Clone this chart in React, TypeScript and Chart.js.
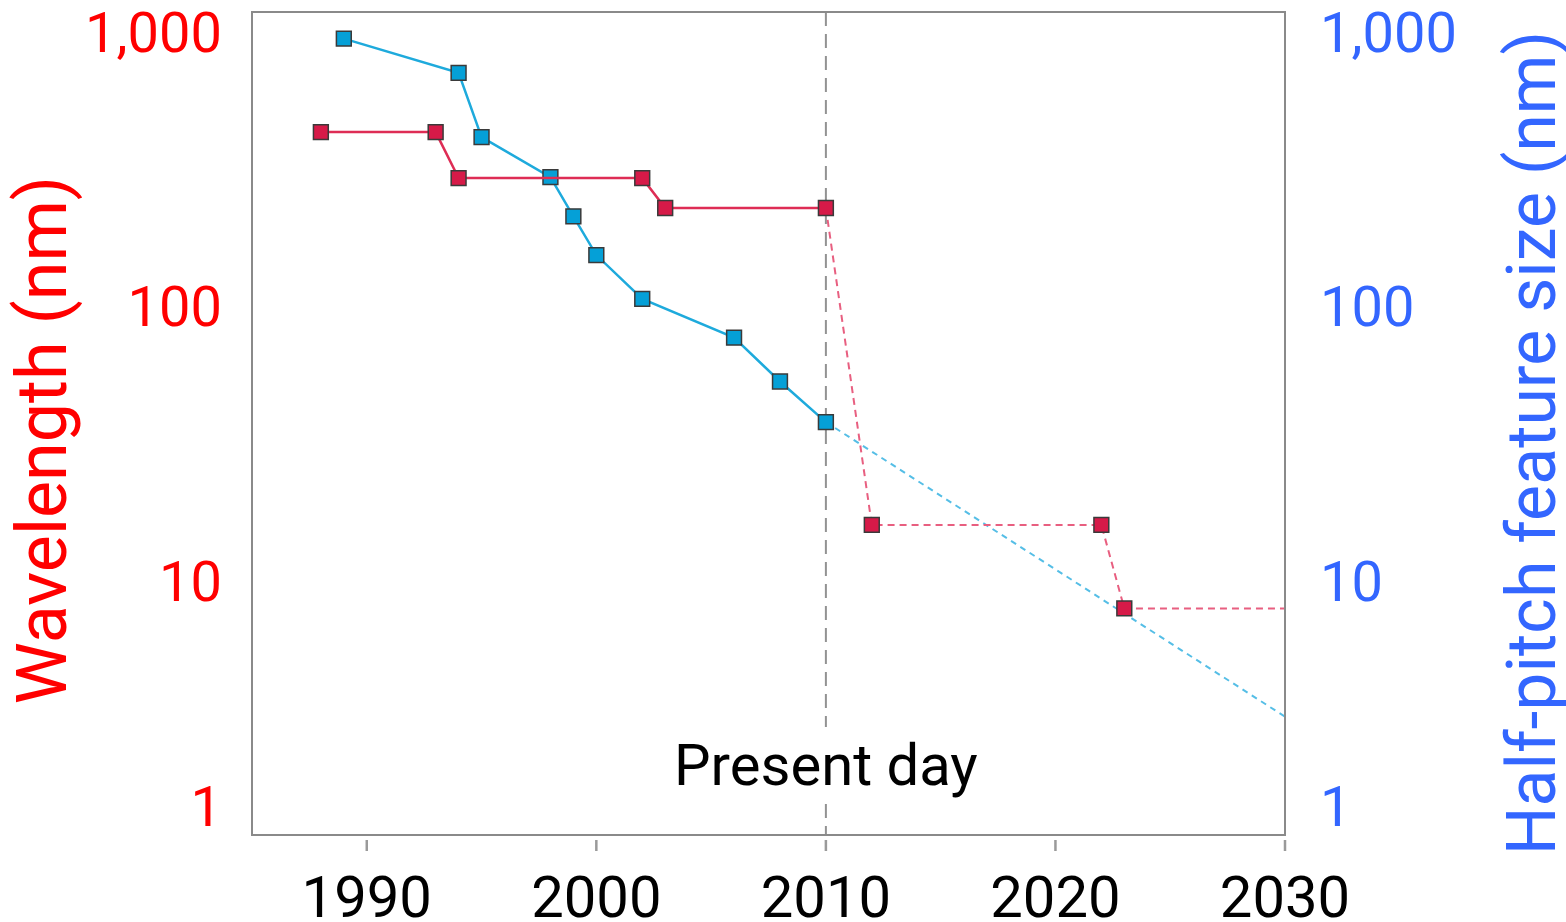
import React, { useEffect, useRef } from "react";
import { Chart, registerables } from "chart.js";

Chart.register(...registerables);

const FONT = "Roboto, 'Noto Sans', sans-serif";

// ---- data ----
const xTickYears = [1990, 2000, 2010, 2020, 2030];
const yTickValues = [1, 10, 100, 1000];

const redYears = [1988, 1993, 1994, 2002, 2003, 2010];
const redWavelength = [365, 365, 248, 248, 193, 193];
const redProjYears = [2010, 2012, 2022, 2023, 2030];
const redProjWavelength = [193, 13.5, 13.5, 6.7, 6.7];
const redProjMarker = [false, true, true, true, false];

const blueYears = [1989, 1994, 1995, 1998, 1999, 2000, 2002, 2006, 2008, 2010];
const bluePitch = [800, 600, 350, 250, 180, 130, 90, 65, 45, 32];
const blueProjYears = [2010, 2030];
const blueProjPitch = [32, 2.7];

const presentDayYear = 2010;
const presentDayLabel = "Present day";
const leftTitle = "Wavelength (nm)";
const rightTitle = "Half-pitch feature size (nm)";

// ---- styles ----
const RED_TEXT = "#ff0000";
const BLUE_TEXT = "#3366ff";
const RED_LINE = "rgb(222,45,85)";
const RED_FILL = "rgb(214,26,72)";
const RED_DASH = "rgb(232,95,128)";
const BLUE_LINE = "rgb(30,170,220)";
const BLUE_FILL = "rgb(5,160,215)";
const BLUE_DASH = "rgb(85,190,230)";
const MARKER_BORDER = "#3a3a3a";

const pts = (xs: number[], ys: number[]) => xs.map((x, i) => ({ x, y: ys[i] }));
const fmtTick = (v: number) => (v === 1000 ? "1,000" : String(v));

const zeroPad = (s: any) => {
  s.paddingTop = 0;
  s.paddingBottom = 0;
  s.paddingLeft = 0;
  s.paddingRight = 0;
};

const decorPlugin = {
  id: "decor",
  beforeDatasetsDraw(chart: any) {
    const { ctx, chartArea: a, scales } = chart;
    const x = scales.x.getPixelForValue(presentDayYear);
    ctx.save();
    ctx.strokeStyle = "#929292";
    ctx.lineWidth = 2;
    ctx.setLineDash([14, 8]);
    ctx.beginPath();
    ctx.moveTo(x, a.top);
    ctx.lineTo(x, a.bottom);
    ctx.stroke();
    ctx.setLineDash([]);
    ctx.font = `58px ${FONT}`;
    const w = ctx.measureText(presentDayLabel).width;
    ctx.fillStyle = "#ffffff";
    ctx.fillRect(x - w / 2 - 6, a.bottom - 108, w + 12, 76);
    ctx.fillStyle = "#000000";
    ctx.textAlign = "center";
    ctx.textBaseline = "alphabetic";
    ctx.fillText(presentDayLabel, x, a.bottom - 50);
    ctx.restore();
  },
  afterDraw(chart: any) {
    const { ctx, chartArea: a, scales } = chart;
    ctx.save();
    ctx.strokeStyle = "#8a8a8a";
    ctx.lineWidth = 2;
    ctx.strokeRect(a.left, a.top, a.right - a.left, a.bottom - a.top);
    ctx.strokeStyle = "#9a9a9a";
    ctx.lineWidth = 2.5;
    for (const yr of xTickYears) {
      const px = scales.x.getPixelForValue(yr);
      ctx.beginPath();
      ctx.moveTo(px, a.bottom + 5);
      ctx.lineTo(px, a.bottom + 16);
      ctx.stroke();
    }
    ctx.textAlign = "center";
    ctx.textBaseline = "alphabetic";
    ctx.fillStyle = RED_TEXT;
    ctx.font = `70px ${FONT}`;
    ctx.save();
    ctx.translate(66, 440);
    ctx.rotate(-Math.PI / 2);
    ctx.fillText(leftTitle, 0, 0);
    ctx.restore();
    ctx.fillStyle = BLUE_TEXT;
    ctx.font = `68px ${FONT}`;
    ctx.save();
    ctx.translate(1555, 443);
    ctx.rotate(-Math.PI / 2);
    ctx.fillText(rightTitle, 0, 0);
    ctx.restore();
    ctx.restore();
  },
};

export default function App() {
  const ref = useRef<HTMLCanvasElement | null>(null);

  useEffect(() => {
    if (!ref.current) return;
    const markerCommon = {
      pointStyle: "rect",
      pointRadius: 10.5,
      pointHoverRadius: 10.5,
      pointBorderColor: MARKER_BORDER,
      pointBorderWidth: 1.5,
    };
    const chart = new Chart(ref.current, {
      type: "line",
      data: {
        datasets: [
          {
            label: "Wavelength",
            data: pts(redYears, redWavelength),
            borderColor: RED_LINE,
            borderWidth: 2.5,
            pointBackgroundColor: RED_FILL,
            yAxisID: "y",
            ...markerCommon,
          },
          {
            label: "Wavelength (projected)",
            data: pts(redProjYears, redProjWavelength),
            borderColor: RED_DASH,
            borderWidth: 2,
            borderDash: [7, 5],
            pointBackgroundColor: RED_FILL,
            yAxisID: "y",
            ...markerCommon,
            pointRadius: redProjMarker.map((m) => (m ? 10.5 : 0)),
          },
          {
            label: "Half-pitch",
            data: pts(blueYears, bluePitch),
            borderColor: BLUE_LINE,
            borderWidth: 2.5,
            pointBackgroundColor: BLUE_FILL,
            yAxisID: "y2",
            ...markerCommon,
          },
          {
            label: "Half-pitch (projected)",
            data: pts(blueProjYears, blueProjPitch),
            borderColor: BLUE_DASH,
            borderWidth: 2,
            borderDash: [6, 5],
            pointRadius: 0,
            yAxisID: "y2",
          },
        ],
      },
      options: {
        animation: false,
        responsive: true,
        maintainAspectRatio: false,
        layout: { padding: { top: 10, left: 0, right: 0, bottom: 0 } },
        plugins: { legend: { display: false }, tooltip: { enabled: false } },
        elements: { line: { tension: 0 } },
        scales: {
          x: {
            type: "linear",
            min: 1985,
            max: 2030,
            grid: { display: false, drawTicks: false },
            border: { display: false },
            afterBuildTicks: (s: any) => {
              s.ticks = xTickYears.map((v) => ({ value: v }));
            },
            afterFit: (s: any) => {
              s.height = 87;
              zeroPad(s);
            },
            ticks: {
              color: "#000000",
              font: { family: FONT, size: 58 },
              padding: 33,
              maxRotation: 0,
              autoSkip: false,
              callback: (v: any) => String(v),
            },
          },
          y: {
            type: "logarithmic",
            position: "left",
            min: 1,
            max: 1000,
            grid: { display: false, drawTicks: false },
            border: { display: false },
            afterBuildTicks: (s: any) => {
              s.ticks = yTickValues.map((v) => ({ value: v }));
            },
            afterFit: (s: any) => {
              s.width = 252;
              zeroPad(s);
            },
            ticks: {
              color: RED_TEXT,
              font: { family: FONT, size: 56, lineHeight: 1.75 },
              padding: 30,
              labelOffset: 26,
              autoSkip: false,
              callback: (v: any) => (Number(v) === 1 ? ["1", ""] : fmtTick(Number(v))),
            },
          },
          y2: {
            type: "logarithmic",
            position: "right",
            min: 1,
            max: 1000,
            grid: { display: false, drawTicks: false },
            border: { display: false },
            afterBuildTicks: (s: any) => {
              s.ticks = yTickValues.map((v) => ({ value: v }));
            },
            afterFit: (s: any) => {
              s.width = 281;
              zeroPad(s);
            },
            ticks: {
              color: BLUE_TEXT,
              font: { family: FONT, size: 56, lineHeight: 1.75 },
              padding: 35,
              labelOffset: 26,
              autoSkip: false,
              callback: (v: any) => (Number(v) === 1 ? ["1", ""] : fmtTick(Number(v))),
            },
          },
        },
      },
      plugins: [decorPlugin],
    } as any);
    return () => chart.destroy();
  }, []);

  return (
    <div style={{ position: "absolute", left: 0, top: 0, width: 1566, height: 922, background: "#fff" }}>
      <canvas ref={ref} />
    </div>
  );
}
